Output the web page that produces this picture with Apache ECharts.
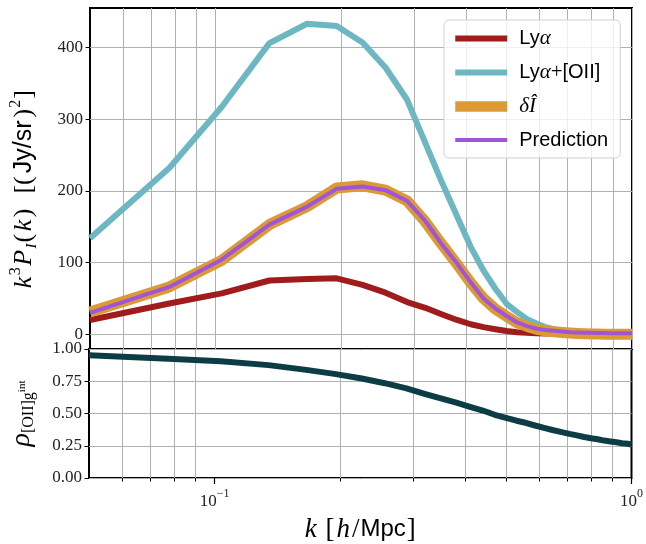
<!DOCTYPE html>
<html><head><meta charset="utf-8">
<script src="https://cdn.jsdelivr.net/npm/echarts@6/dist/echarts.min.js"></script>
<style>html,body{margin:0;padding:0;background:#fff}#c{width:646px;height:544px}</style>
</head><body><div id="c"></div>
<script>
const kValues = [0.05, 0.0775, 0.1035, 0.1348, 0.166, 0.1955, 0.2255, 0.256, 0.2885, 0.319, 0.349, 0.38, 0.41, 0.44, 0.47, 0.50, 0.53, 0.56, 0.59, 0.62, 0.65, 0.68, 0.71, 0.74, 0.77, 0.80, 0.83, 0.86, 0.89, 0.92, 0.95, 0.98, 1.0];
const lyaValues = [20, 43, 57, 75, 77, 78, 69, 58, 45, 37, 28, 20, 14, 10, 7, 4.5, 3, 2.2, 1.6, 1.2, 1.0, 0.8, 0.7, 0.6, 0.5, 0.5, 0.4, 0.4, 0.4, 0.3, 0.3, 0.3, 0.3];
const lyaOiiValues = [134, 232, 317, 406, 433, 430, 407, 372, 327, 267, 213, 165, 122, 89, 63.5, 42.5, 31, 21, 15, 10, 7, 5, 4, 3.2, 2.7, 2.4, 2.2, 2.0, 1.9, 1.8, 1.7, 1.6, 1.6];
const deltaIValues = [31, 66, 103, 153, 178, 204, 207, 201, 186, 157, 126, 98, 72, 50, 35, 25, 16, 11, 7, 5, 3.6, 2.6, 1.8, 1.2, 0.8, 0.5, 0.3, 0.2, 0.1, 0.1, 0, 0, 0];
const predictionValues = [30, 66, 104, 153, 178, 203, 206, 201, 186, 158, 126, 99, 72.5, 50, 36, 25.5, 16.5, 11.5, 7.8, 6, 4.8, 3.8, 3.0, 2.5, 2.2, 2.0, 1.8, 1.7, 1.6, 1.5, 1.5, 1.4, 1.4];
const rhoValues = [0.951, 0.924, 0.905, 0.875, 0.838, 0.805, 0.771, 0.735, 0.695, 0.653, 0.617, 0.584, 0.552, 0.523, 0.49, 0.466, 0.444, 0.426, 0.405, 0.387, 0.37, 0.356, 0.342, 0.33, 0.318, 0.308, 0.30, 0.29, 0.283, 0.277, 0.27, 0.265, 0.26];
const seriesNames = ['Lyα', 'Lyα+[OII]', 'δÎ', 'Prediction'];
const xMajorTicks = [0.1, 1];
const xMinorTicks = [0.06, 0.07, 0.08, 0.09, 0.2, 0.3, 0.4, 0.5, 0.6, 0.7, 0.8, 0.9];
const yTopTicks = [0, 100, 200, 300, 400];
const yBottomTicks = [0, 0.25, 0.5, 0.75, 1];

const pairs = arr => kValues.map((k, i) => [k, arr[i]]);
const allXTicks = xMinorTicks.concat(xMajorTicks).sort((a, b) => a - b);

const SERIF = 'Liberation Serif';
const SANS = 'Liberation Sans';
const gridLine = { show: true, lineStyle: { color: '#b0b0b0', width: 1 } };

const chart = echarts.init(document.getElementById('c'), null, { renderer: 'canvas' });

const xBase = { type: 'log', logBase: 10, min: 0.05, max: 1 };

chart.setOption({
  animation: false,
  backgroundColor: '#fff',
  grid: [
    { left: 85, right: 14, top: 8, height: 341, show: true, borderColor: '#000', borderWidth: 2, backgroundColor: 'transparent' },
    { left: 85, right: 14, top: 349, height: 138, show: true, borderColor: '#000', borderWidth: 2, backgroundColor: 'transparent' }
  ],
  xAxis: [
    Object.assign({ gridIndex: 0, position: 'bottom', axisLine: { show: false }, axisLabel: { show: false },
      axisTick: { show: false, customValues: allXTicks }, splitLine: gridLine }, xBase),
    Object.assign({ gridIndex: 1, position: 'bottom', axisLine: { show: false }, axisLabel: { show: false },
      axisTick: { show: true, length: 3.5, inside: false, customValues: xMinorTicks, lineStyle: { color: '#000', width: 1 } },
      splitLine: Object.assign({}, gridLine) }, xBase),
    Object.assign({ gridIndex: 1, position: 'bottom', axisLine: { show: false },
      axisTick: { show: true, length: 6, customValues: xMajorTicks, lineStyle: { color: '#000', width: 1.2 } },
      splitLine: { show: false },
      axisLabel: { show: true, customValues: xMajorTicks, margin: 10,
        formatter: v => '{b|10}{s|' + (Math.round(Math.log10(v)) < 0 ? '−' + (-Math.round(Math.log10(v))) : Math.round(Math.log10(v))) + '}',
        rich: { b: { fontFamily: SERIF, fontSize: 17, color: '#222', lineHeight: 22, verticalAlign: 'bottom' },
                s: { fontFamily: SERIF, fontSize: 12, color: '#222', lineHeight: 22, verticalAlign: 'top' } } },
      name: '{i|k}{r| [}{i|h}{r|/}{s|Mpc}{r|]}', nameLocation: 'middle', nameGap: 38,
      nameTextStyle: { rich: {
        i: { fontFamily: SERIF, fontStyle: 'italic', fontSize: 27, color: '#000', padding: [0, 1] },
        r: { fontFamily: SERIF, fontSize: 27, color: '#000', padding: [0, 1] },
        s: { fontFamily: SANS, fontSize: 24, color: '#000' } } } }, xBase)
  ],
  yAxis: [
    { gridIndex: 0, type: 'value', min: -20.5, max: 455,
      axisLine: { show: false },
      axisTick: { show: true, length: 4.5, customValues: yTopTicks, lineStyle: { color: '#000' } },
      axisLabel: { show: true, customValues: yTopTicks, margin: 7, fontFamily: SERIF, fontSize: 17, color: '#222' },
      splitLine: gridLine,
      name: '{i|k}{sup|3}{i|P}{sub|I}{r|(}{i|k}{r|)}{r|  [(}{s|Jy/sr}{r|)}{sup|2}{r|]}',
      nameLocation: 'middle', nameGap: 50, nameRotate: 90,
      nameTextStyle: { padding: [0, 22, 0, 0], rich: {
        i: { fontFamily: SERIF, fontStyle: 'italic', fontSize: 26, color: '#000', lineHeight: 32, padding: [0, 1.5] },
        r: { fontFamily: SERIF, fontSize: 26, color: '#000', lineHeight: 32, padding: [0, 1] },
        s: { fontFamily: SANS, fontSize: 25, color: '#000', lineHeight: 32, padding: [0, 2] },
        sup: { fontFamily: SERIF, fontSize: 16, color: '#000', verticalAlign: 'top', lineHeight: 17 },
        sub: { fontFamily: SERIF, fontStyle: 'italic', fontSize: 15, color: '#000', verticalAlign: 'bottom', lineHeight: 15 } } } },
    { gridIndex: 1, type: 'value', min: 0, max: 1, interval: 0.25,
      axisLine: { show: false },
      axisTick: { show: true, length: 4.5, lineStyle: { color: '#000' } },
      axisLabel: { show: true, margin: 7, fontFamily: SERIF, fontSize: 17, color: '#222', formatter: v => v.toFixed(2) },
      splitLine: gridLine,
      name: '{m|ρ}{sub|[OII]g}{sup|int}', nameLocation: 'middle', nameGap: 52, nameRotate: 90,
      nameTextStyle: { rich: {
        m: { fontFamily: SERIF, fontStyle: 'italic', fontSize: 28, color: '#000', lineHeight: 30 },
        sub: { fontFamily: SERIF, fontSize: 16, color: '#000', verticalAlign: 'bottom', lineHeight: 15 },
        sup: { fontFamily: SERIF, fontSize: 11, color: '#000', verticalAlign: 'middle', lineHeight: 11 } } } }
  ],
  legend: {
    orient: 'vertical', left: 444, top: 20,
    padding: [8, 12, 8, 6],
    backgroundColor: 'rgba(255,255,255,0.8)', borderColor: '#d0d0d0', borderWidth: 1, borderRadius: 5,
    itemWidth: 52, itemHeight: 20, itemGap: 13,
    data: [
      { name: seriesNames[0], lineStyle: { width: 6 }, itemStyle: { opacity: 0 } },
      { name: seriesNames[1], lineStyle: { width: 6 }, itemStyle: { opacity: 0 } },
      { name: seriesNames[2], lineStyle: { width: 10.5 }, itemStyle: { opacity: 0 } },
      { name: seriesNames[3], lineStyle: { width: 4 }, itemStyle: { opacity: 0 } }
    ],
    formatter: name => {
      if (name === seriesNames[0]) return '{s|Ly}{m|α}';
      if (name === seriesNames[1]) return '{s|Ly}{m|α}{r|+}{s|[OII]}';
      if (name === seriesNames[2]) return '{m|δÎ}';
      return '{s|Prediction}';
    },
    textStyle: { padding: [0, 0, 0, 7], rich: {
      s: { fontFamily: SANS, fontSize: 20, color: '#000' },
      m: { fontFamily: SERIF, fontStyle: 'italic', fontSize: 21, color: '#000' },
      r: { fontFamily: SERIF, fontSize: 21, color: '#000' } } }
  },
  series: [
    { name: seriesNames[0], type: 'line', xAxisIndex: 0, yAxisIndex: 0, data: pairs(lyaValues), symbol: 'none', showSymbol: false,
      lineStyle: { color: '#a01c1c', width: 6, join: 'round' }, itemStyle: { color: '#a01c1c' } },
    { name: seriesNames[1], type: 'line', xAxisIndex: 0, yAxisIndex: 0, data: pairs(lyaOiiValues), symbol: 'none', showSymbol: false,
      lineStyle: { color: '#6db7c3', width: 6, join: 'round' }, itemStyle: { color: '#6db7c3' } },
    { name: seriesNames[2], type: 'line', xAxisIndex: 0, yAxisIndex: 0, data: pairs(deltaIValues), symbol: 'none', showSymbol: false,
      lineStyle: { color: '#dc9a35', width: 11, join: 'round' }, itemStyle: { color: '#dc9a35' } },
    { name: seriesNames[3], type: 'line', xAxisIndex: 0, yAxisIndex: 0, data: pairs(predictionValues), symbol: 'none', showSymbol: false,
      lineStyle: { color: '#a055d8', width: 4, join: 'round' }, itemStyle: { color: '#a055d8' } },
    { name: 'rho', type: 'line', xAxisIndex: 1, yAxisIndex: 1, data: pairs(rhoValues), symbol: 'none', showSymbol: false,
      lineStyle: { color: '#0c3d45', width: 6, join: 'round' }, itemStyle: { color: '#0c3d45' } }
  ]
});
</script>
</body></html>
